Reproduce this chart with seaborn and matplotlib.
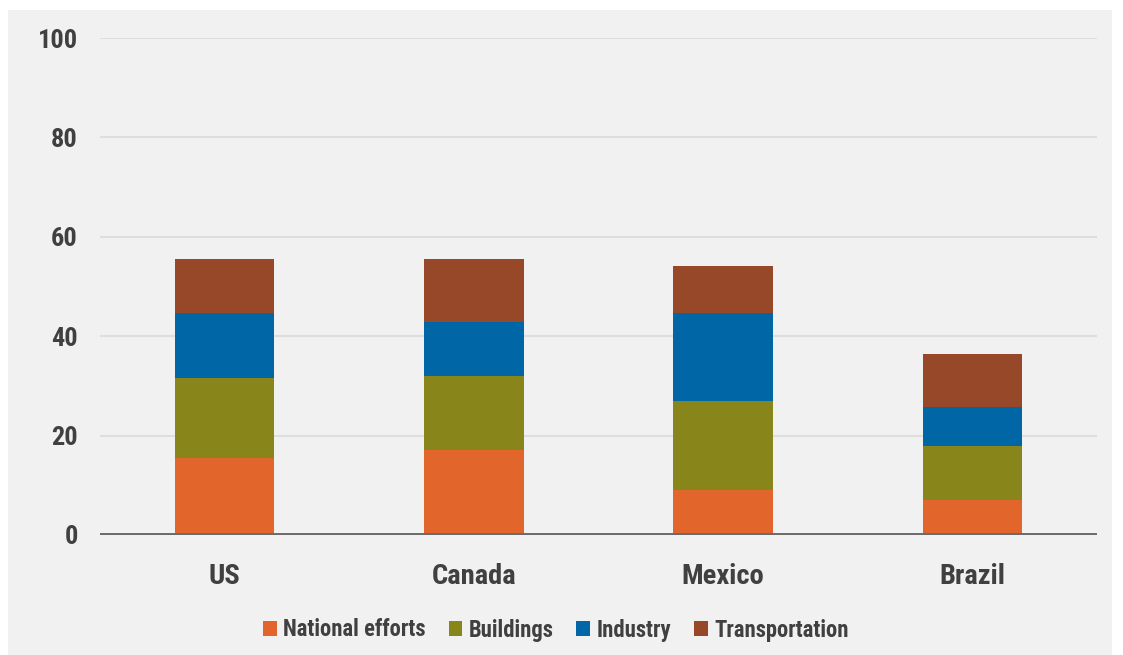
import numpy as np
import pandas as pd
import matplotlib
matplotlib.use("Agg")
import matplotlib.pyplot as plt
from matplotlib import font_manager
from matplotlib.patches import Patch, Rectangle
import seaborn as sns

countries = ["US", "Canada", "Mexico", "Brazil"]
national_efforts = [15.5, 17.2, 9.1, 7.1]
buildings = [16.0, 14.8, 17.9, 10.8]
industry = [13.1, 10.8, 17.6, 7.8]
transportation = [11.0, 12.8, 9.5, 10.7]

series_names = ["National efforts", "Buildings", "Industry", "Transportation"]
series_values = [national_efforts, buildings, industry, transportation]
colors = ["#e2662b", "#88851b", "#0066a5", "#974829"]

sns.set_theme(style="white")

# prefer a narrow sans face for the labels
available = {f.name for f in font_manager.fontManager.ttflist}
narrow = None
for cand in ["Roboto Condensed", "Liberation Sans Narrow", "DejaVu Sans Condensed",
             "Open Sans Condensed", "Noto Sans Condensed"]:
    if cand in available:
        narrow = cand
        break
if narrow is None:
    narrow = "Liberation Sans"
    scale = 0.85
else:
    scale = 1.0
plt.rcParams["font.family"] = [narrow, "DejaVu Sans"]

fig = plt.figure(figsize=(11.23, 6.55), dpi=100, facecolor="white")
fig.patches.append(Rectangle((8 / 1123, 0), 1104 / 1123, 645 / 655,
                             transform=fig.transFigure, facecolor="#f1f1f1",
                             edgecolor="none", zorder=-10))
ax = fig.add_axes([100 / 1123, 120 / 655, 997 / 1123, 497 / 655])
ax.set_facecolor("none")

df = pd.DataFrame({"country": countries})
cum = np.zeros(len(countries))
tops = []
for vals in series_values:
    cum = cum + np.array(vals)
    tops.append(cum.copy())

# stacked bars: draw cumulative totals from the top layer down
for name, top, col in reversed(list(zip(series_names, tops, colors))):
    df["top"] = top
    sns.barplot(data=df, x="country", y="top", color=col, width=0.4,
                saturation=1, ax=ax, zorder=3, edgecolor="none")

ax.set_ylim(0, 100)
ax.set_xlim(-0.5, 3.5)
ax.set_yticks([0, 20, 40, 60, 80, 100])
ax.yaxis.grid(True, color="#dedede", linewidth=1.5, zorder=0)
ax.xaxis.grid(False)
ax.axhline(0, color="#6a6a6a", linewidth=2.8, zorder=4)
for s in ax.spines.values():
    s.set_visible(False)
ax.set_xlabel("")
ax.set_ylabel("")
ax.tick_params(axis="y", length=0, pad=16, labelsize=19 * scale, labelcolor="#404040")
ax.tick_params(axis="x", length=0, pad=20, labelsize=20.5 * scale, labelcolor="#404040")
for lab in ax.get_yticklabels() + ax.get_xticklabels():
    lab.set_fontweight("bold")

handles = [Patch(facecolor=c, edgecolor="none", label=n) for n, c in zip(series_names, colors)]
leg = fig.legend(handles=handles, loc="center", bbox_to_anchor=(556 / 1123, 25 / 655),
                 ncol=4, frameon=False, handlelength=0.6, handleheight=0.6,
                 handletextpad=0.3, columnspacing=1.0,
                 prop={"size": 16.3 * scale, "weight": "bold"})
for t in leg.get_texts():
    t.set_color("#404040")

fig.savefig("out.png", dpi=100, facecolor="white")
